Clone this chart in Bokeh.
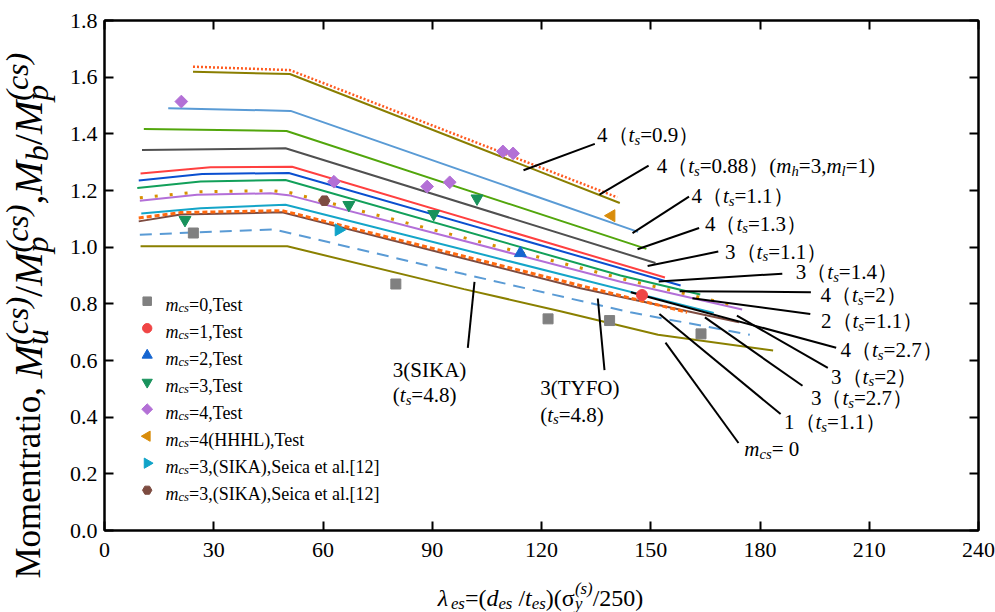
import math
from bokeh.plotting import figure
from bokeh.layouts import row, column
from bokeh.models import (Range1d, LinearAxis, FixedTicker, Label,
                          PrintfTickFormatter, CustomJSTickFormatter, ColumnDataSource)
from bokeh.embed import file_html
from bokeh.resources import INLINE

FONT = "Liberation Serif"

# ---------------- data ----------------
X_TICKS = [0, 30, 60, 90, 120, 150, 180, 210, 240]
Y_TICKS = [0.0, 0.2, 0.4, 0.6, 0.8, 1.0, 1.2, 1.4, 1.6, 1.8]

# design curves
x_4_ts09 = [24.3, 50.9, 141.5]
y_4_ts09 = [1.619, 1.611, 1.156]
x_4_ts088 = [24.3, 50.9, 140.8]
y_4_ts088 = [1.637, 1.625, 1.176]
x_4_ts11 = [17.5, 51.1, 146.5]
y_4_ts11 = [1.490, 1.481, 1.054]
x_4_ts13 = [10.8, 50.0, 148.8]
y_4_ts13 = [1.417, 1.410, 0.994]
x_3_ts11 = [10.3, 49.7, 151.3]
y_3_ts11 = [1.343, 1.349, 0.944]
x_3_ts14 = [9.9, 29.1, 51.5, 153.9]
y_3_ts14 = [1.260, 1.282, 1.284, 0.893]
x_4_ts2 = [9.4, 26.8, 50.6, 158.2]
y_4_ts2 = [1.235, 1.258, 1.262, 0.865]
x_2_ts11 = [9.0, 26.4, 49.7, 141.7, 163.6]
y_2_ts11 = [1.209, 1.232, 1.237, 0.900, 0.833]
x_4_ts27 = [9.7, 25.4, 45.6, 51.1, 141.7, 175.1]
y_4_ts27 = [1.164, 1.185, 1.190, 1.182, 0.878, 0.780]
x_3_ts2 = [9.7, 25.4, 45.6, 51.1, 141.7, 172.0]
y_3_ts2 = [1.174, 1.195, 1.200, 1.192, 0.890, 0.797]
x_3_ts27 = [10.1, 26.4, 49.7, 167.3]
y_3_ts27 = [1.119, 1.137, 1.150, 0.768]
x_3_tyfo = [9.4, 20.9, 48.8, 160.0]
y_3_tyfo = [1.103, 1.122, 1.129, 0.770]
x_1_ts11 = [9.4, 20.9, 48.8, 130.7, 174.2]
y_1_ts11 = [1.091, 1.115, 1.123, 0.855, 0.735]
x_3_sika = [9.7, 46.5, 98.7, 144.4, 177.2]
y_3_sika = [1.044, 1.063, 0.905, 0.770, 0.691]
x_0 = [9.9, 50.2, 98.7, 125.2, 152.0, 183.6]
y_0 = [1.003, 1.003, 0.852, 0.774, 0.691, 0.635]

# test points
x_t0 = [24.4, 80.0, 121.8, 138.7, 163.8]
y_t0 = [1.050, 0.870, 0.747, 0.741, 0.694]
x_t1 = [147.6]
y_t1 = [0.831]
x_t2 = [114.2]
y_t2 = [0.979]
x_t3 = [22.1, 67.1, 90.4, 102.3]
y_t3 = [1.096, 1.149, 1.117, 1.172]
x_t4 = [21.1, 63.0, 88.6, 94.8, 109.4, 112.2]
y_t4 = [1.514, 1.231, 1.214, 1.229, 1.338, 1.331]
x_t4h = [139.2]
y_t4h = [1.111]
x_seica_a = [64.3]
y_seica_a = [1.061]
x_seica_b = [60.4]
y_seica_b = [1.164]

LEGEND_TEXT = ["=0,Test", "=1,Test", "=2,Test", "=3,Test", "=4,Test",
               "=4(HHHL),Test", "=3,(SIKA),Seica et al.[12]", "=3,(SIKA),Seica et al.[12]"]

# ---------------- layout (page pixels, page has no margin) ----------------
YT_W = 58                       # width of the y-title strip
PAGE_W, PAGE_H = 995, 612
FRAME_L, FRAME_R, FRAME_T, FRAME_B = 104, 978, 20, 530
MAIN_W = PAGE_W - YT_W
MAIN_H = 572
BL = FRAME_L - YT_W
BR = PAGE_W - FRAME_R
BT = FRAME_T
BB = MAIN_H - FRAME_B
FW, FH = FRAME_R - FRAME_L, FRAME_B - FRAME_T


def dc(px, py):
    """page pixel -> data coords of the main plot"""
    return (px - FRAME_L) / FW * 240.0, (FRAME_B - py) / FH * 1.8


p = figure(width=MAIN_W, height=MAIN_H, x_range=Range1d(0, 240), y_range=Range1d(0, 1.8),
           output_backend="svg", toolbar_location=None,
           min_border_left=BL, min_border_right=BR, min_border_top=BT, min_border_bottom=BB)
p.xgrid.visible = False
p.ygrid.visible = False
p.outline_line_color = "black"
p.outline_line_width = 2
p.background_fill_color = "white"
p.border_fill_color = "white"


def style_axis(ax, ticks, labels=True):
    ax.ticker = FixedTicker(ticks=ticks)
    ax.axis_line_width = 2
    ax.axis_line_color = "black"
    ax.major_tick_in = 9
    ax.major_tick_out = 0
    ax.major_tick_line_width = 2
    ax.major_tick_line_color = "black"
    ax.minor_tick_line_color = None
    ax.major_label_text_font = FONT
    ax.major_label_text_font_style = "normal"
    if labels:
        ax.major_label_text_font_size = "22px"
        ax.major_label_text_color = "black"
        ax.major_label_standoff = 7
    else:
        ax.major_label_text_font_size = "0px"
        ax.major_label_standoff = 0
        ax.formatter = CustomJSTickFormatter(code="return ''")


style_axis(p.xaxis[0], X_TICKS)
p.xaxis[0].major_label_standoff = 12
style_axis(p.yaxis[0], Y_TICKS)
p.yaxis[0].formatter = PrintfTickFormatter(format="%.1f")
ax_r = LinearAxis()
style_axis(ax_r, Y_TICKS, labels=False)
p.add_layout(ax_r, "right")
ax_t = LinearAxis()
style_axis(ax_t, X_TICKS, labels=False)
p.add_layout(ax_t, "above")

# ---------------- curves ----------------
curves = [
    (x_0, y_0, "#8A8000", "solid", 2),
    (x_3_sika, y_3_sika, "#5A9BD5", "12 8", 2),
    (x_1_ts11, y_1_ts11, "#7D4B40", "solid", 2),
    (x_3_tyfo, y_3_tyfo, "#FF6A10", "5 3", 3),
    (x_3_ts27, y_3_ts27, "#14A5C8", "solid", 2),
    (x_4_ts27, y_4_ts27, "#B36FD8", "solid", 2),
    (x_3_ts2, y_3_ts2, "#D89000", "3 12", 3),
    (x_2_ts11, y_2_ts11, "#12A05A", "solid", 2),
    (x_4_ts2, y_4_ts2, "#0A4FD0", "solid", 2),
    (x_3_ts14, y_3_ts14, "#FF4040", "solid", 2),
    (x_3_ts11, y_3_ts11, "#505050", "solid", 2),
    (x_4_ts13, y_4_ts13, "#52A60C", "solid", 2),
    (x_4_ts11, y_4_ts11, "#5A9BD5", "solid", 2),
    (x_4_ts09, y_4_ts09, "#8A7E00", "solid", 2),
    (x_4_ts088, y_4_ts088, "#FF5A1F", "2 2", 2.5),
]
for xs, ys, col, dash, lw in curves:
    p.line(xs, ys, line_color=col, line_width=lw, line_dash=dash)

# ---------------- leader lines (page pixels) ----------------
leaders = [
    ((594.3, 143.4), (523.0, 169.7)),
    ((648.1, 165.2), (599.0, 194.2)),
    ((688.5, 196.2), (632.0, 232.6)),
    ((698.6, 227.5), (637.0, 248.7)),
    ((717.8, 251.1), (647.1, 265.6)),
    ((781.8, 273.2), (658.2, 280.9)),
    ((810.4, 291.7), (679.1, 290.7)),
    ((809.8, 313.6), (691.9, 297.7)),
    ((835.7, 347.2), (630.3, 291.7)),
    ((827.3, 367.4), (736.4, 315.2)),
    ((802.0, 385.3), (704.4, 316.9)),
    ((780.1, 413.6), (658.9, 313.6)),
    ((738.0, 442.5), (665.0, 342.2)),
    ((467.3, 347.3), (474.0, 281.3)),
    ((604.0, 369.7), (597.3, 298.0)),
]
seg = dict(x0=[], y0=[], x1=[], y1=[])
for a, b in leaders:
    x0, y0 = dc(*a)
    x1, y1 = dc(*b)
    seg["x0"].append(x0); seg["y0"].append(y0); seg["x1"].append(x1); seg["y1"].append(y1)
p.segment(x0="x0", y0="y0", x1="x1", y1="y1", source=ColumnDataSource(seg),
          line_color="black", line_width=2)

# ---------------- markers ----------------
markers = [
    (x_t0, y_t0, "square", "#808080", 10, 0.0),
    (x_t1, y_t1, "circle", "#F04545", 11, 0.0),
    (x_t2, y_t2, "triangle", "#1565D0", 12, 0.0),
    (x_t3, y_t3, "inverted_triangle", "#18925C", 12, 0.0),
    (x_t4, y_t4, "square", "#B370D6", 9, math.pi / 4),
    (x_t4h, y_t4h, "triangle", "#D98C0A", 12, math.pi / 2),
    (x_seica_a, y_seica_a, "triangle", "#10A3C8", 12, -math.pi / 2),
    (x_seica_b, y_seica_b, "hex", "#7D4B40", 11, 0.0),
]
for xs, ys, mk, col, sz, ang in markers:
    p.scatter(xs, ys, marker=mk, size=sz, angle=ang, fill_color=col, line_color=col)

# legend swatches (layout positions in page pixels)
LEG_X, LEG_Y0, LEG_DY = 146.7, 300.7, 27.0
sw = dict(x=[], y=[], marker=[], color=[], size=[], angle=[])
for i, (xs, ys, mk, col, sz, ang) in enumerate(markers):
    lx, ly = dc(LEG_X, LEG_Y0 + LEG_DY * i)
    sw["x"].append(lx); sw["y"].append(ly); sw["marker"].append(mk)
    sw["color"].append(col); sw["size"].append(sz * 0.85); sw["angle"].append(ang)
p.scatter(x="x", y="y", marker="marker", size="size", angle="angle", fill_color="color",
          line_color="color", source=ColumnDataSource(sw))

# ---------------- rich text helper ----------------
RG = {' ': .25, '(': .333, ')': .333, ',': .25, '.': .25, '/': .278, '=': .564, '[': .333, ']': .333,
      'A': .722, 'F': .556, 'H': .722, 'I': .333, 'K': .722, 'L': .611, 'M': .889, 'O': .722,
      'S': .556, 'T': .611, 'Y': .722, 'a': .444, 'c': .444, 'e': .444, 'i': .278, 'l': .278,
      'm': .778, 'n': .5, 'o': .5, 'r': .333, 's': .389, 't': .278, 'σ': .55,
      '（': 1.0, '）': 1.0}
IT = {'(': .333, ')': .333, 'b': .5, 'c': .444, 'd': .5, 'e': .444, 'h': .5, 'l': .278, 'm': .722,
      'p': .5, 's': .389, 't': .278, 'u': .5, 'y': .444, 'M': .833, 'λ': .55}


def text_w(s, italic):
    tab = IT if italic else RG
    return sum(tab.get(ch, RG.get(ch, 0.5)) for ch in s)


def rich(fig, origin, parts, px, py, size, angle=0.0, align="left", script=0.7,
         lift=0.15, sup=0.40):
    """origin: page pixel of the bottom-left corner of fig's frame.
    parts: (text, italic, shift[, advance[, scale]]); a blank text only advances"""
    specs = []
    for part in parts:
        t, it, sh = part[:3]
        adv = part[3] if len(part) > 3 else True
        k = part[4] if len(part) > 4 else 1.0
        base = size * k
        s = base * (script if sh else 1.0)
        w = text_w(t, it) * s if adv else 0.0
        off = {0: 0.0, -1: -0.22 * base, 1: sup * base}[sh] + lift * base
        specs.append((t, it, s, w, off))
    total = sum(sp[3] for sp in specs)
    pos = -total / 2 if align == "center" else 0.0
    ca, sa = math.cos(angle), math.sin(angle)
    bx, by = px - origin[0], origin[1] - py
    for t, it, s, w, off in specs:
        if t.strip():
            x = bx + pos * ca - off * sa
            y = by + pos * sa + off * ca
            fig.add_layout(Label(x=x, y=y, x_units="screen", y_units="screen", text=t,
                                 angle=angle, text_font=FONT, text_font_size=f"{s:.1f}px",
                                 text_font_style="italic" if it else "normal",
                                 text_color="black", text_baseline="alphabetic",
                                 text_align="left"))
        pos += w


MAIN_O = (FRAME_L, FRAME_B)


def ts(n, v, tail=None):
    parts = [(f"{n}（", False, 0), ("t", True, 0), ("s", True, -1), (f"={v}）", False, 0)]
    if tail:
        parts += tail
    return parts


ANN = 21
mhml = [("(", False, 0), ("m", True, 0), ("h", True, -1), ("=3,", False, 0),
        ("m", True, 0), ("l", True, -1), ("=1)", False, 0)]
ts48 = [("(", False, 0), ("t", True, 0), ("s", True, -1), ("=4.8)", False, 0)]
annotations = [
    (ts(4, "0.9"), 596.6, 137.6),
    (ts(4, "0.88", mhml), 656.2, 168.6),
    (ts(4, "1.1"), 690.9, 198.9),
    (ts(4, "1.3"), 704.4, 226.5),
    (ts(3, "1.1"), 724.6, 254.5),
    (ts(3, "1.4"), 795.3, 274.8),
    (ts(4, "2"), 819.9, 297.7),
    (ts(2, "1.1"), 820.5, 323.7),
    (ts(4, "2.7"), 840.0, 353.0),
    (ts(3, "2"), 830.6, 379.2),
    (ts(3, "2.7"), 810.4, 401.1),
    (ts(1, "1.1"), 783.5, 424.7),
    ([("m", True, 0), ("cs", True, -1), ("= 0", False, 0)], 743.8, 451.6),
    ([("3(SIKA)", False, 0)], 392.3, 373.0),
    (ts48, 392.3, 398.0),
    ([("3(TYFO)", False, 0)], 539.7, 390.7),
    (ts48, 539.7, 417.3),
]
for parts, px, py in annotations:
    rich(p, MAIN_O, parts, px, py, ANN)

# legend texts
for i, txt in enumerate(LEGEND_TEXT):
    rich(p, MAIN_O, [("m", True, 0), ("cs", True, -1), (txt, False, 0)],
         165.0, LEG_Y0 + LEG_DY * i + 6, 18)

# ---------------- axis title strips ----------------
XT_H = PAGE_H - MAIN_H


def strip(w, h):
    f = figure(width=w, height=h, x_range=Range1d(0, 1), y_range=Range1d(0, 1),
               x_axis_type=None, y_axis_type=None, output_backend="svg", toolbar_location=None,
               min_border=0, min_border_left=0, min_border_right=0, min_border_top=0,
               min_border_bottom=0)
    f.outline_line_color = None
    f.xgrid.visible = False
    f.ygrid.visible = False
    f.background_fill_color = "white"
    f.border_fill_color = "white"
    return f


# the x-title strip's frame is aligned with the main frame's left edge by the column layout
xt = strip(MAIN_W, XT_H)
rich(xt, (FRAME_L, PAGE_H),
     [("λ", True, 0), ("es", True, -1), ("=(", False, 0), ("d", True, 0), ("es", True, -1),
      (" ", False, 0), ("/", False, 0), ("t", True, 0), ("es", True, -1), (")(σ", False, 0),
      ("y", True, -1, False), ("(s)", True, 1), ("/250)", False, 0)],
     540.0, 601.0, 24, align="center")

MK = 40 / 35
yt = strip(YT_W, PAGE_H)
rich(yt, (0, PAGE_H),
     [("Momentratio,", False, 0), (" ", False, 0), ("M", True, 0, True, MK),
      ("u", True, -1, False, MK), ("(cs)", True, 1, True, MK), ("/", False, 0, True, MK),
      ("M", True, 0, True, MK), ("p", True, -1, False, MK), ("(cs)", True, 1, True, MK),
      (",", False, 0, True, MK), ("M", True, 0, True, MK), ("b", True, -1, True, MK),
      ("/", False, 0, True, MK), ("M", True, 0, True, MK), ("p", True, -1, False, MK),
      ("(cs)", True, 1, True, MK)],
     28.0, 578.0, 35, angle=math.pi / 2, script=0.8, lift=0.0, sup=0.28)

layout = row(yt, column(p, xt))
open("out.html", "w").write(file_html(layout, INLINE))
